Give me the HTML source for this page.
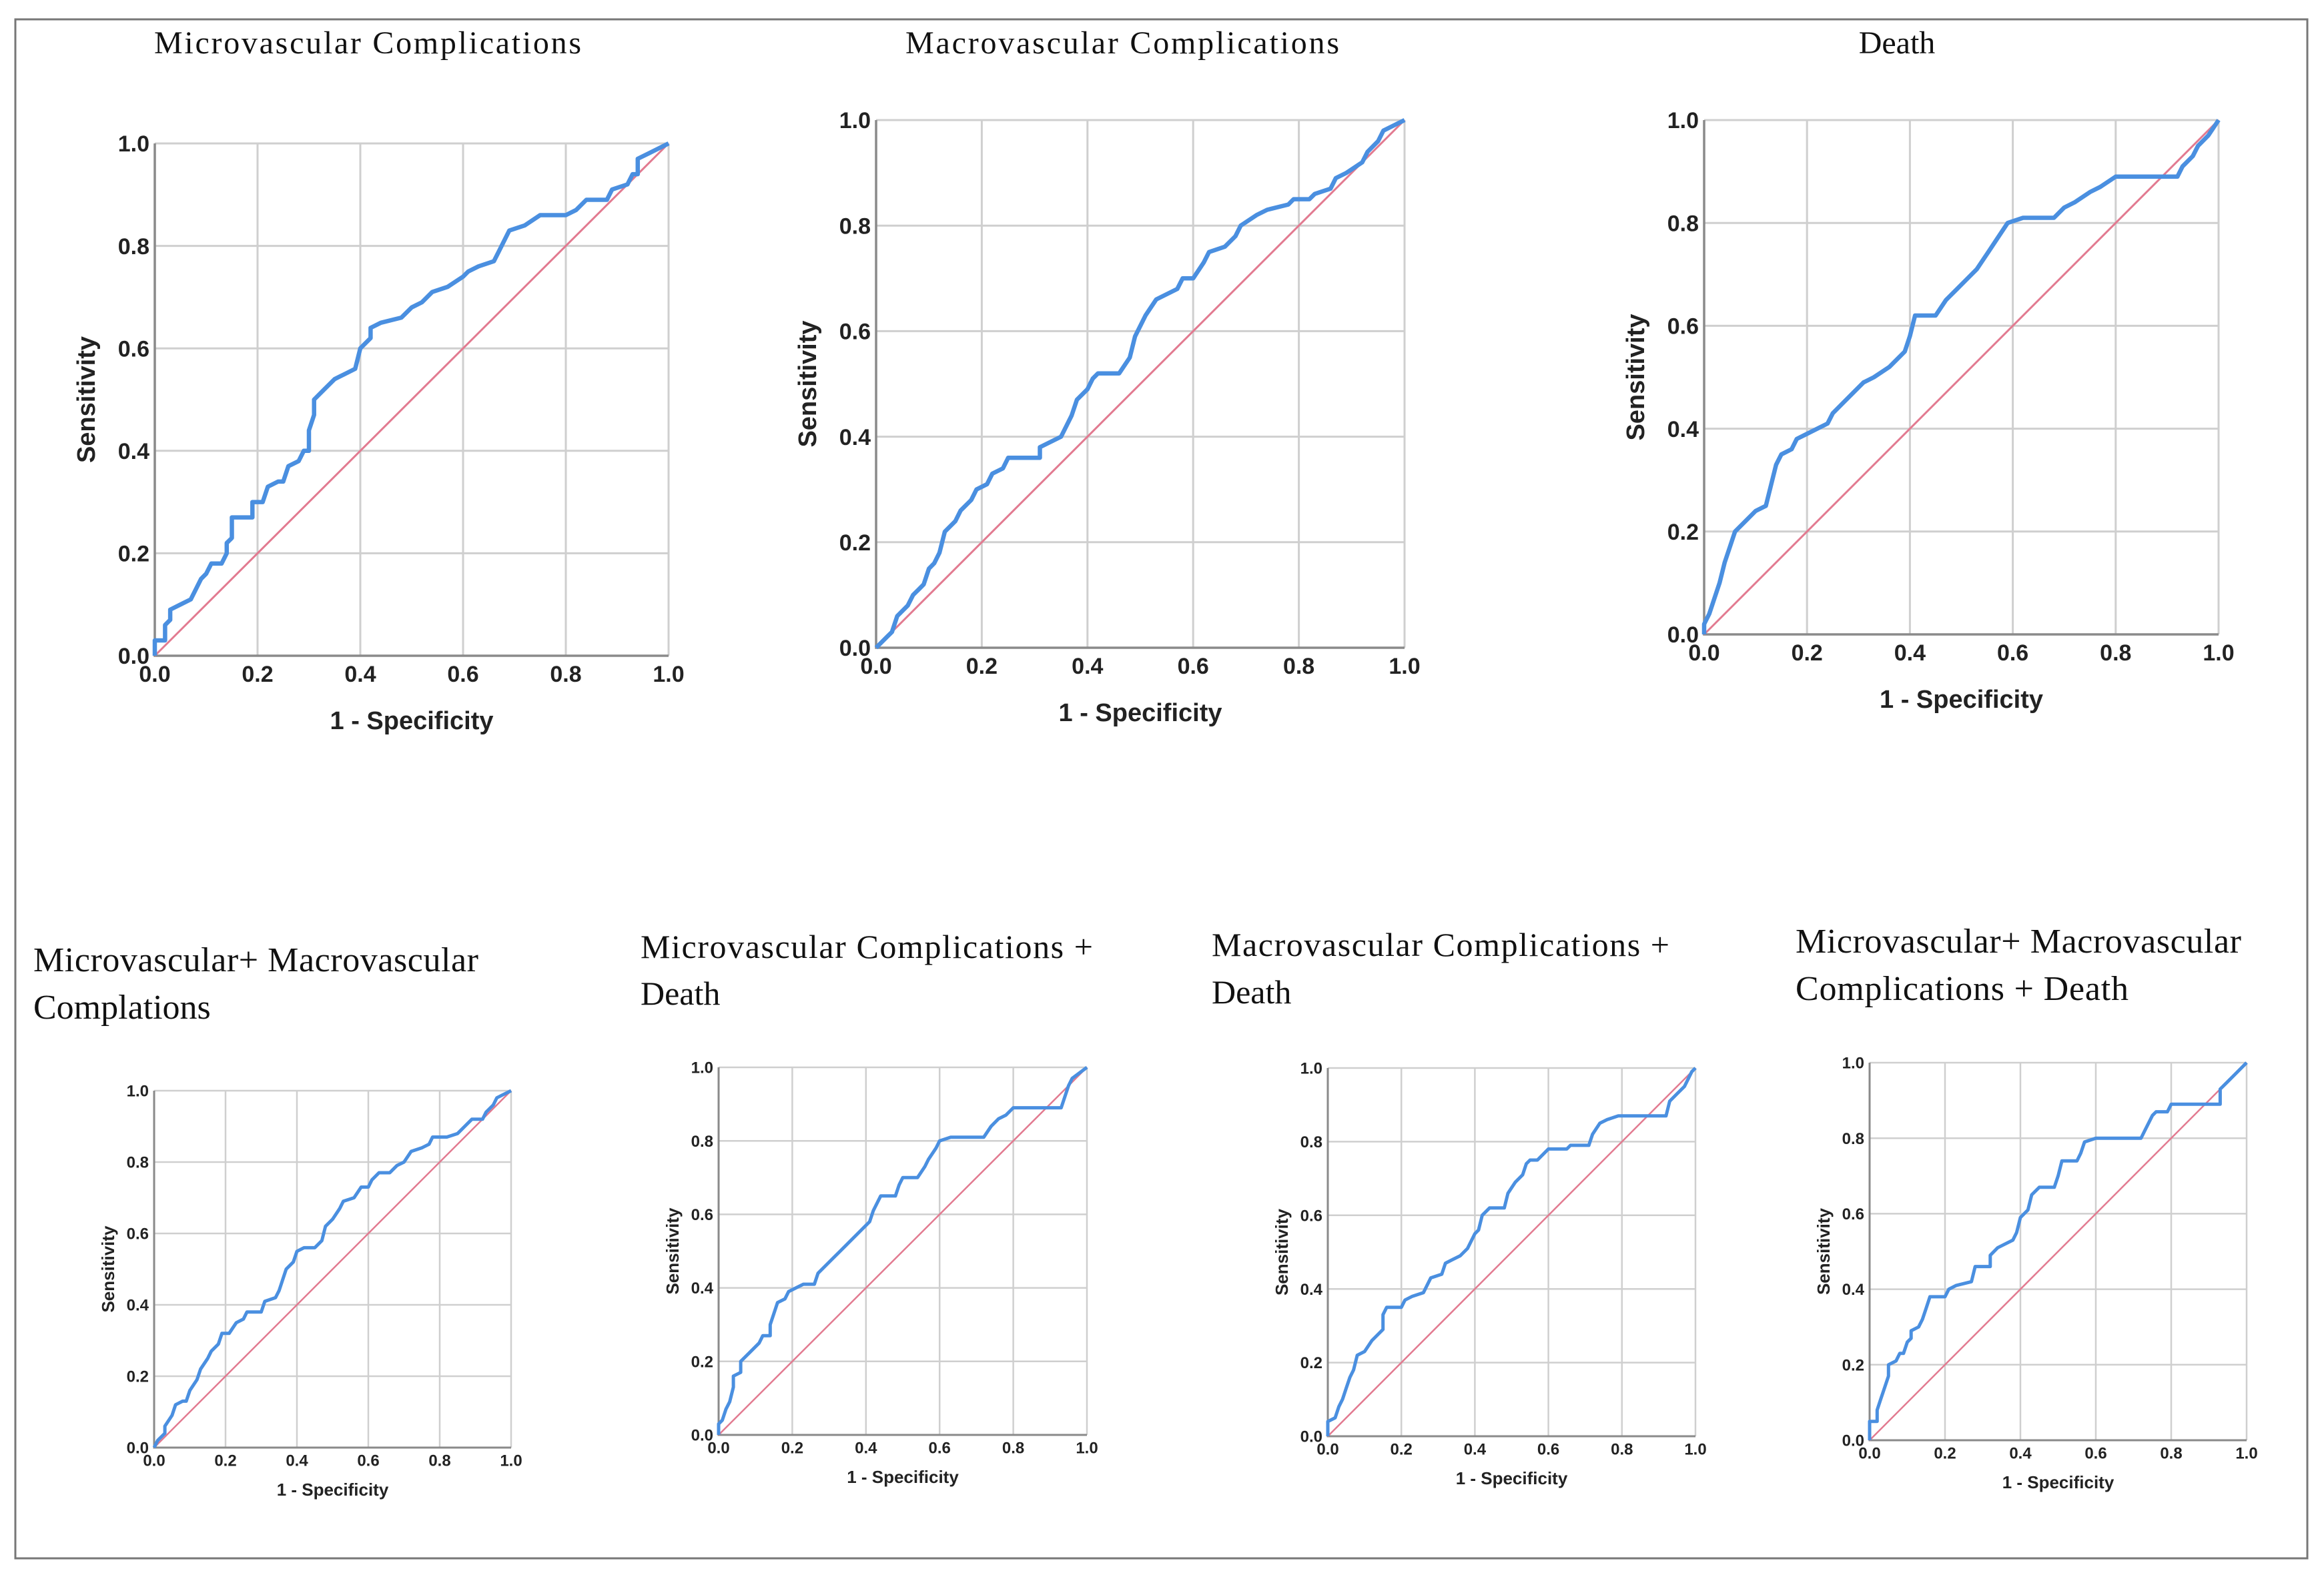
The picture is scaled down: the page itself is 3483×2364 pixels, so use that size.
<!DOCTYPE html>
<html><head><meta charset="utf-8"><style>
html,body{margin:0;padding:0;background:#fff}
svg{display:block}
.t{font-family:"Liberation Serif",serif;fill:#111}
.k{font-family:"Liberation Sans",sans-serif;fill:#222}
</style></head><body>
<svg id="s" width="3483" height="2364" viewBox="0 0 3483 2364" xmlns="http://www.w3.org/2000/svg">
<rect x="23" y="29" width="3435" height="2307" fill="#fff" stroke="#777" stroke-width="3"/>
<text class="t" x="551" y="80" font-size="48" text-anchor="middle" textLength="640">Microvascular Complications</text>
<text class="t" x="1682" y="80" font-size="48" text-anchor="middle" textLength="650">Macrovascular Complications</text>
<text class="t" x="2843" y="80" font-size="48" text-anchor="middle">Death</text>
<text class="t" x="50" y="1456" font-size="52" textLength="667">Microvascular+ Macrovascular</text>
<text class="t" x="50" y="1527" font-size="52">Complations</text>
<text class="t" x="960" y="1436" font-size="50" textLength="678">Microvascular Complications +</text>
<text class="t" x="960" y="1506" font-size="50">Death</text>
<text class="t" x="1816" y="1433" font-size="50" textLength="686">Macrovascular Complications +</text>
<text class="t" x="1816" y="1504" font-size="50">Death</text>
<text class="t" x="2691" y="1428" font-size="52" textLength="668">Microvascular+ Macrovascular</text>
<text class="t" x="2691" y="1499" font-size="52" textLength="499">Complications + Death</text>
<g id="charts"></g>
</svg>
<script>
const ticks=[0,0.2,0.4,0.6,0.8,1.0];
const tickLabels=["0.0","0.2","0.4","0.6","0.8","1.0"];
const fpr1=[0,0,0.02,0.02,0.03,0.03,0.05,0.07,0.08,0.09,0.1,0.11,0.13,0.14,0.14,0.15,0.15,0.19,0.19,0.21,0.22,0.24,0.25,0.26,0.28,0.29,0.3,0.3,0.31,0.31,0.33,0.35,0.37,0.39,0.4,0.42,0.42,0.44,0.48,0.5,0.52,0.54,0.57,0.6,0.61,0.63,0.66,0.67,0.68,0.69,0.72,0.75,0.8,0.82,0.84,0.88,0.89,0.92,0.93,0.94,0.94,0.96,1];
const tpr1=[0,0.03,0.03,0.06,0.07,0.09,0.1,0.11,0.13,0.15,0.16,0.18,0.18,0.2,0.22,0.23,0.27,0.27,0.3,0.3,0.33,0.34,0.34,0.37,0.38,0.4,0.4,0.44,0.47,0.5,0.52,0.54,0.55,0.56,0.6,0.62,0.64,0.65,0.66,0.68,0.69,0.71,0.72,0.74,0.75,0.76,0.77,0.79,0.81,0.83,0.84,0.86,0.86,0.87,0.89,0.89,0.91,0.92,0.94,0.94,0.97,0.98,1];
const fpr2=[0,0.02,0.03,0.04,0.06,0.07,0.08,0.09,0.1,0.11,0.12,0.13,0.15,0.16,0.18,0.19,0.21,0.22,0.24,0.25,0.31,0.31,0.35,0.36,0.37,0.38,0.4,0.41,0.42,0.46,0.48,0.49,0.5,0.51,0.53,0.55,0.57,0.58,0.6,0.62,0.63,0.66,0.68,0.69,0.72,0.74,0.78,0.79,0.82,0.83,0.86,0.87,0.89,0.92,0.93,0.95,0.96,0.98,1];
const tpr2=[0,0.02,0.03,0.06,0.08,0.1,0.11,0.12,0.15,0.16,0.18,0.22,0.24,0.26,0.28,0.3,0.31,0.33,0.34,0.36,0.36,0.38,0.4,0.42,0.44,0.47,0.49,0.51,0.52,0.52,0.55,0.59,0.61,0.63,0.66,0.67,0.68,0.7,0.7,0.73,0.75,0.76,0.78,0.8,0.82,0.83,0.84,0.85,0.85,0.86,0.87,0.89,0.9,0.92,0.94,0.96,0.98,0.99,1];
const fpr3=[0,0,0.01,0.02,0.03,0.04,0.05,0.06,0.08,0.1,0.12,0.13,0.14,0.15,0.17,0.18,0.2,0.24,0.25,0.27,0.29,0.31,0.33,0.36,0.38,0.39,0.4,0.41,0.45,0.47,0.49,0.51,0.53,0.55,0.57,0.59,0.62,0.68,0.7,0.72,0.75,0.77,0.8,0.92,0.93,0.95,0.96,0.98,1];
const tpr3=[0,0.02,0.04,0.07,0.1,0.14,0.17,0.2,0.22,0.24,0.25,0.29,0.33,0.35,0.36,0.38,0.39,0.41,0.43,0.45,0.47,0.49,0.5,0.52,0.54,0.55,0.58,0.62,0.62,0.65,0.67,0.69,0.71,0.74,0.77,0.8,0.81,0.81,0.83,0.84,0.86,0.87,0.89,0.89,0.91,0.93,0.95,0.97,1];
const fpr5=[0,0.01,0.03,0.03,0.05,0.06,0.08,0.09,0.1,0.12,0.13,0.15,0.16,0.18,0.19,0.21,0.23,0.25,0.26,0.3,0.31,0.34,0.35,0.36,0.37,0.39,0.4,0.42,0.45,0.47,0.48,0.5,0.52,0.53,0.56,0.58,0.6,0.61,0.63,0.66,0.68,0.7,0.72,0.75,0.77,0.78,0.82,0.85,0.87,0.89,0.92,0.93,0.95,0.96,0.98,1];
const tpr5=[0,0.02,0.04,0.06,0.09,0.12,0.13,0.13,0.16,0.19,0.22,0.25,0.27,0.29,0.32,0.32,0.35,0.36,0.38,0.38,0.41,0.42,0.44,0.47,0.5,0.52,0.55,0.56,0.56,0.58,0.62,0.64,0.67,0.69,0.7,0.73,0.73,0.75,0.77,0.77,0.79,0.8,0.83,0.84,0.85,0.87,0.87,0.88,0.9,0.92,0.92,0.94,0.96,0.98,0.99,1];
const fpr6=[0,0,0.01,0.02,0.03,0.04,0.04,0.06,0.06,0.08,0.1,0.11,0.12,0.14,0.14,0.15,0.16,0.18,0.19,0.21,0.23,0.26,0.27,0.29,0.31,0.33,0.35,0.37,0.39,0.41,0.42,0.44,0.48,0.49,0.5,0.54,0.56,0.57,0.59,0.6,0.63,0.72,0.74,0.76,0.78,0.8,0.93,0.94,0.95,0.96,1];
const tpr6=[0,0.03,0.04,0.07,0.09,0.13,0.16,0.17,0.2,0.22,0.24,0.25,0.27,0.27,0.3,0.33,0.36,0.37,0.39,0.4,0.41,0.41,0.44,0.46,0.48,0.5,0.52,0.54,0.56,0.58,0.61,0.65,0.65,0.68,0.7,0.7,0.73,0.75,0.78,0.8,0.81,0.81,0.84,0.86,0.87,0.89,0.89,0.92,0.95,0.97,1];
const fpr7=[0,0,0.02,0.03,0.04,0.05,0.06,0.07,0.08,0.1,0.12,0.13,0.15,0.15,0.16,0.2,0.21,0.23,0.26,0.28,0.31,0.32,0.34,0.36,0.38,0.4,0.41,0.42,0.44,0.48,0.49,0.51,0.53,0.54,0.55,0.57,0.6,0.65,0.66,0.71,0.72,0.74,0.76,0.79,0.88,0.92,0.93,0.95,0.97,0.99,1];
const tpr7=[0,0.04,0.05,0.08,0.1,0.13,0.16,0.18,0.22,0.23,0.26,0.27,0.29,0.33,0.35,0.35,0.37,0.38,0.39,0.43,0.44,0.47,0.48,0.49,0.51,0.55,0.56,0.6,0.62,0.62,0.66,0.69,0.71,0.74,0.75,0.75,0.78,0.78,0.79,0.79,0.82,0.85,0.86,0.87,0.87,0.87,0.91,0.93,0.95,0.99,1];
const fpr8=[0,0,0.02,0.02,0.03,0.04,0.05,0.05,0.07,0.08,0.09,0.1,0.11,0.11,0.13,0.14,0.15,0.16,0.2,0.21,0.23,0.27,0.28,0.32,0.32,0.34,0.38,0.39,0.4,0.41,0.42,0.43,0.45,0.49,0.5,0.51,0.55,0.56,0.57,0.6,0.72,0.73,0.75,0.76,0.79,0.8,0.93,0.93,0.95,0.97,1];
const tpr8=[0,0.05,0.05,0.08,0.11,0.14,0.17,0.2,0.21,0.23,0.23,0.26,0.27,0.29,0.3,0.32,0.35,0.38,0.38,0.4,0.41,0.42,0.46,0.46,0.49,0.51,0.53,0.55,0.59,0.6,0.61,0.65,0.67,0.67,0.7,0.74,0.74,0.76,0.79,0.8,0.8,0.82,0.86,0.87,0.87,0.89,0.89,0.93,0.95,0.97,1];

const NS="http://www.w3.org/2000/svg";
const root=document.getElementById('charts');
function mk(tag,attrs,parent){const e=document.createElementNS(NS,tag);for(const k in attrs)e.setAttribute(k,attrs[k]);(parent||root).appendChild(e);return e;}
function chart(id,x0,x1,y0,y1,fpr,tpr,big){
  const g=mk('g',{});
  
  
  const sx=v=>x0+v*(x1-x0), sy=v=>y1-v*(y1-y0);
  const fs=big?34:24, tfs=big?38:26, lw=big?6.5:5;
  ticks.forEach((t,i)=>{
    if(i>0){
      const gx=mk('line',{x1:sx(t),x2:sx(t),y1:y0,y2:y1,stroke:'#cfcfcf','stroke-width':big?3:2.5},g);
      
      
      const gy=mk('line',{x1:x0,x2:x1,y1:sy(t),y2:sy(t),stroke:'#cfcfcf','stroke-width':big?3:2.5},g);
      
      
    }
    const yl=mk('text',{x:x0-8,y:sy(t)+fs*0.36,'font-size':fs,'text-anchor':'end','font-weight':'bold',class:'k'},g);
    yl.textContent=tickLabels[i];
    
    
    const xl=mk('text',{x:sx(t),y:y1+fs*1.15,'font-size':fs,'text-anchor':'middle','font-weight':'bold',class:'k'},g);
    xl.textContent=tickLabels[i];
    
    
  });
  const ax=mk('path',{d:`M${x0},${y0}V${y1}H${x1}`,fill:'none',stroke:'#8a8a8a','stroke-width':big?3.5:3},g);
  
  
  const ref=mk('line',{x1:sx(0),y1:sy(0),x2:sx(1),y2:sy(1),stroke:'#e27a90','stroke-width':big?3:2.5},g);
  
  
  const pts=fpr.map((f,i)=>sx(f).toFixed(1)+','+sy(tpr[i]).toFixed(1)).join(' ');
  const c=mk('polyline',{points:pts,fill:'none',stroke:'#4a8fe0','stroke-width':lw,'stroke-linejoin':'round'},g);
  
  
  const xt=mk('text',{x:(x0+x1)/2,y:y1+(big?110:72),'font-size':tfs,'text-anchor':'middle','font-weight':'bold',class:'k'},g);
  xt.textContent='1 - Specificity';
  
  
  const yx=x0-(big?90:60), yy=(y0+y1)/2;
  const yt=mk('text',{x:yx,y:yy,'font-size':tfs,'text-anchor':'middle','font-weight':'bold',class:'k',transform:`rotate(-90 ${yx} ${yy})`},g);
  yt.textContent='Sensitivity';
  
  
}
chart('micro',232,1002,215,983,fpr1,tpr1,true);
chart('macro',1313,2105,180,971,fpr2,tpr2,true);
chart('death',2554,3325,180,951,fpr3,tpr3,true);
chart('micro-macro',231,766,1635,2170,fpr5,tpr5,false);
chart('micro-death',1077,1629,1600,2151,fpr6,tpr6,false);
chart('macro-death',1990,2541,1601,2153,fpr7,tpr7,false);
chart('all',2802,3367,1593,2159,fpr8,tpr8,false);
</script>
</body></html>
